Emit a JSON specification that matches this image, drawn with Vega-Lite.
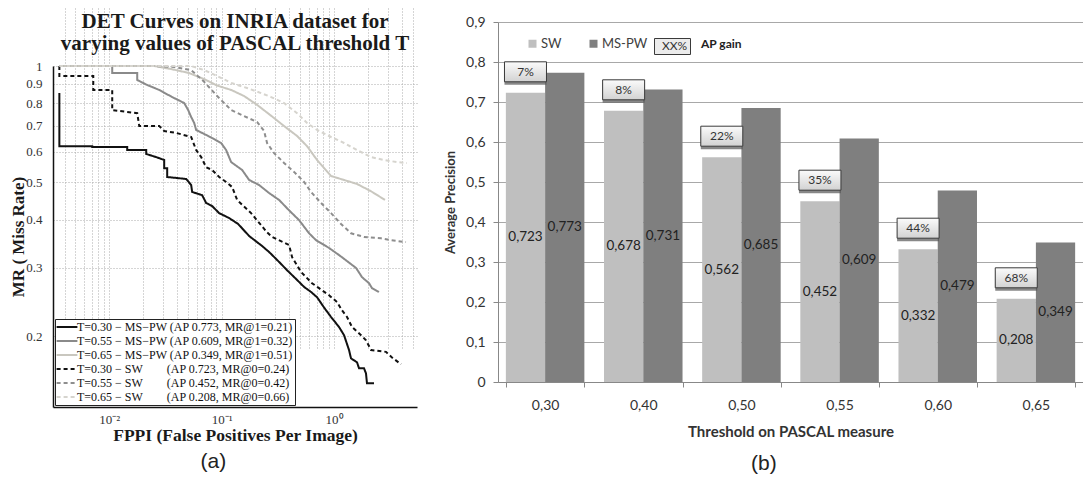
{
  "$schema": "https://vega.github.io/schema/vega-lite/v6.json",
  "background": "white",
  "padding": {"left": 9, "top": 8, "right": 0, "bottom": 0},
  "spacing": 27,
  "config": {
    "locale": {"number": {"decimal": ",", "thousands": ".", "grouping": [3], "currency": ["", " €"]}},
    "view": {"stroke": null}
  },
  "datasets": {
    "det": [
      {"k":"k1","i":0,"f":0.0036,"mr":0.851},{"k":"k1","i":1,"f":0.0036,"mr":0.62},{"k":"k1","i":2,"f":0.00706,"mr":0.62},{"k":"k1","i":3,"f":0.00706,"mr":0.617},{"k":"k1","i":4,"f":0.01445,"mr":0.617},{"k":"k1","i":5,"f":0.01445,"mr":0.606},{"k":"k1","i":6,"f":0.02133,"mr":0.606},{"k":"k1","i":7,"f":0.02133,"mr":0.592},{"k":"k1","i":8,"f":0.02618,"mr":0.581},{"k":"k1","i":9,"f":0.03083,"mr":0.571},{"k":"k1","i":10,"f":0.03083,"mr":0.544},{"k":"k1","i":11,"f":0.03278,"mr":0.544},{"k":"k1","i":12,"f":0.03278,"mr":0.516},{"k":"k1","i":13,"f":0.04833,"mr":0.51},{"k":"k1","i":14,"f":0.05356,"mr":0.492},{"k":"k1","i":15,"f":0.05467,"mr":0.472},{"k":"k1","i":16,"f":0.06711,"mr":0.463},{"k":"k1","i":17,"f":0.07278,"mr":0.442},{"k":"k1","i":18,"f":0.08233,"mr":0.434},{"k":"k1","i":19,"f":0.09506,"mr":0.416},{"k":"k1","i":20,"f":0.1166,"mr":0.404},{"k":"k1","i":21,"f":0.1402,"mr":0.39},{"k":"k1","i":22,"f":0.1756,"mr":0.363},{"k":"k1","i":23,"f":0.2291,"mr":0.342},{"k":"k1","i":24,"f":0.2643,"mr":0.33},{"k":"k1","i":25,"f":0.3245,"mr":0.311},{"k":"k1","i":26,"f":0.3822,"mr":0.296},{"k":"k1","i":27,"f":0.4593,"mr":0.281},{"k":"k1","i":28,"f":0.5412,"mr":0.268},{"k":"k1","i":29,"f":0.6246,"mr":0.26},{"k":"k1","i":30,"f":0.7063,"mr":0.252},{"k":"k1","i":31,"f":0.815,"mr":0.237},{"k":"k1","i":32,"f":0.9406,"mr":0.224},{"k":"k1","i":33,"f":1.108,"mr":0.211},{"k":"k1","i":34,"f":1.227,"mr":0.201},{"k":"k1","i":35,"f":1.359,"mr":0.184},{"k":"k1","i":36,"f":1.416,"mr":0.175},{"k":"k1","i":37,"f":1.601,"mr":0.171},{"k":"k1","i":38,"f":1.668,"mr":0.165},{"k":"k1","i":39,"f":1.848,"mr":0.165},{"k":"k1","i":40,"f":1.924,"mr":0.16},{"k":"k1","i":41,"f":1.963,"mr":0.151},{"k":"k1","i":42,"f":2.268,"mr":0.151},
      {"k":"k2","i":0,"f":0.0036,"mr":1},{"k":"k2","i":1,"f":0.01063,"mr":1},{"k":"k2","i":2,"f":0.01063,"mr":0.959},{"k":"k2","i":3,"f":0.01774,"mr":0.959},{"k":"k2","i":4,"f":0.01774,"mr":0.92},{"k":"k2","i":5,"f":0.02177,"mr":0.893},{"k":"k2","i":6,"f":0.02783,"mr":0.867},{"k":"k2","i":7,"f":0.03631,"mr":0.831},{"k":"k2","i":8,"f":0.04642,"mr":0.802},{"k":"k2","i":9,"f":0.05036,"mr":0.769},{"k":"k2","i":10,"f":0.05356,"mr":0.738},{"k":"k2","i":11,"f":0.05699,"mr":0.712},{"k":"k2","i":12,"f":0.05934,"mr":0.683},{"k":"k2","i":13,"f":0.07278,"mr":0.663},{"k":"k2","i":14,"f":0.08233,"mr":0.651},{"k":"k2","i":15,"f":0.09899,"mr":0.632},{"k":"k2","i":16,"f":0.1096,"mr":0.606},{"k":"k2","i":17,"f":0.1215,"mr":0.564},{"k":"k2","i":18,"f":0.1522,"mr":0.538},{"k":"k2","i":19,"f":0.1756,"mr":0.507},{"k":"k2","i":20,"f":0.2154,"mr":0.492},{"k":"k2","i":21,"f":0.2643,"mr":0.469},{"k":"k2","i":22,"f":0.3245,"mr":0.45},{"k":"k2","i":23,"f":0.3981,"mr":0.423},{"k":"k2","i":24,"f":0.4885,"mr":0.399},{"k":"k2","i":25,"f":0.5995,"mr":0.369},{"k":"k2","i":26,"f":0.6918,"mr":0.354},{"k":"k2","i":27,"f":0.9029,"mr":0.338},{"k":"k2","i":28,"f":1.108,"mr":0.324},{"k":"k2","i":29,"f":1.279,"mr":0.314},{"k":"k2","i":30,"f":1.57,"mr":0.3},{"k":"k2","i":31,"f":1.774,"mr":0.284},{"k":"k2","i":32,"f":2.047,"mr":0.274},{"k":"k2","i":33,"f":2.177,"mr":0.266},{"k":"k2","i":34,"f":2.512,"mr":0.26},
      {"k":"k3","i":0,"f":0.0036,"mr":1},{"k":"k3","i":1,"f":0.02512,"mr":1},{"k":"k3","i":2,"f":0.03559,"mr":0.982},{"k":"k3","i":3,"f":0.05141,"mr":0.959},{"k":"k3","i":4,"f":0.0699,"mr":0.925},{"k":"k3","i":5,"f":0.0912,"mr":0.89},{"k":"k3","i":6,"f":0.1215,"mr":0.867},{"k":"k3","i":7,"f":0.1585,"mr":0.836},{"k":"k3","i":8,"f":0.2069,"mr":0.793},{"k":"k3","i":9,"f":0.2699,"mr":0.747},{"k":"k3","i":10,"f":0.3594,"mr":0.699},{"k":"k3","i":11,"f":0.4688,"mr":0.659},{"k":"k3","i":12,"f":0.5754,"mr":0.62},{"k":"k3","i":13,"f":0.7063,"mr":0.571},{"k":"k3","i":14,"f":0.9406,"mr":0.519},{"k":"k3","i":15,"f":1.227,"mr":0.507},{"k":"k3","i":16,"f":1.601,"mr":0.495},{"k":"k3","i":17,"f":2.133,"mr":0.474},{"k":"k3","i":18,"f":2.84,"mr":0.45},
      {"k":"k4","i":0,"f":0.0036,"mr":1},{"k":"k4","i":1,"f":0.0036,"mr":0.942},{"k":"k4","i":2,"f":0.00721,"mr":0.942},{"k":"k4","i":3,"f":0.00721,"mr":0.867},{"k":"k4","i":4,"f":0.01063,"mr":0.867},{"k":"k4","i":5,"f":0.01063,"mr":0.769},{"k":"k4","i":6,"f":0.01774,"mr":0.755},{"k":"k4","i":7,"f":0.01849,"mr":0.699},{"k":"k4","i":8,"f":0.02783,"mr":0.699},{"k":"k4","i":9,"f":0.03083,"mr":0.679},{"k":"k4","i":10,"f":0.03945,"mr":0.671},{"k":"k4","i":11,"f":0.05356,"mr":0.655},{"k":"k4","i":12,"f":0.05934,"mr":0.606},{"k":"k4","i":13,"f":0.06577,"mr":0.581},{"k":"k4","i":14,"f":0.07278,"mr":0.547},{"k":"k4","i":15,"f":0.08233,"mr":0.538},{"k":"k4","i":16,"f":0.09506,"mr":0.516},{"k":"k4","i":17,"f":0.1096,"mr":0.501},{"k":"k4","i":18,"f":0.124,"mr":0.486},{"k":"k4","i":19,"f":0.1374,"mr":0.45},{"k":"k4","i":20,"f":0.1828,"mr":0.416},{"k":"k4","i":21,"f":0.2536,"mr":0.371},{"k":"k4","i":22,"f":0.281,"mr":0.361},{"k":"k4","i":23,"f":0.3981,"mr":0.344},{"k":"k4","i":24,"f":0.4236,"mr":0.32},{"k":"k4","i":25,"f":0.509,"mr":0.293},{"k":"k4","i":26,"f":0.6371,"mr":0.274},{"k":"k4","i":27,"f":0.7356,"mr":0.266},{"k":"k4","i":28,"f":0.9029,"mr":0.255},{"k":"k4","i":29,"f":1.063,"mr":0.245},{"k":"k4","i":30,"f":1.178,"mr":0.233},{"k":"k4","i":31,"f":1.305,"mr":0.224},{"k":"k4","i":32,"f":1.445,"mr":0.211},{"k":"k4","i":33,"f":1.738,"mr":0.201},{"k":"k4","i":34,"f":1.924,"mr":0.195},{"k":"k4","i":35,"f":2.133,"mr":0.184},{"k":"k4","i":36,"f":2.899,"mr":0.182},{"k":"k4","i":37,"f":3.278,"mr":0.176},{"k":"k4","i":38,"f":3.942,"mr":0.169},
      {"k":"k5","i":0,"f":0.0036,"mr":1},{"k":"k5","i":1,"f":0.02512,"mr":1},{"k":"k5","i":2,"f":0.03785,"mr":0.994},{"k":"k5","i":3,"f":0.05356,"mr":0.976},{"k":"k5","i":4,"f":0.0699,"mr":0.91},{"k":"k5","i":5,"f":0.0912,"mr":0.836},{"k":"k5","i":6,"f":0.1215,"mr":0.769},{"k":"k5","i":7,"f":0.1585,"mr":0.742},{"k":"k5","i":8,"f":0.2069,"mr":0.716},{"k":"k5","i":9,"f":0.2385,"mr":0.679},{"k":"k5","i":10,"f":0.2536,"mr":0.632},{"k":"k5","i":11,"f":0.2929,"mr":0.595},{"k":"k5","i":12,"f":0.3594,"mr":0.561},{"k":"k5","i":13,"f":0.4408,"mr":0.532},{"k":"k5","i":14,"f":0.5412,"mr":0.501},{"k":"k5","i":15,"f":0.6246,"mr":0.472},{"k":"k5","i":16,"f":0.7663,"mr":0.442},{"k":"k5","i":17,"f":0.9406,"mr":0.416},{"k":"k5","i":18,"f":1.154,"mr":0.39},{"k":"k5","i":19,"f":1.416,"mr":0.369},{"k":"k5","i":20,"f":1.848,"mr":0.361},{"k":"k5","i":21,"f":2.618,"mr":0.358},{"k":"k5","i":22,"f":3.211,"mr":0.354},{"k":"k5","i":23,"f":4.365,"mr":0.35},
      {"k":"k6","i":0,"f":0.0036,"mr":1},{"k":"k6","i":1,"f":0.05356,"mr":1},{"k":"k6","i":2,"f":0.0699,"mr":0.976},{"k":"k6","i":3,"f":0.0912,"mr":0.942},{"k":"k6","i":4,"f":0.1215,"mr":0.904},{"k":"k6","i":5,"f":0.1685,"mr":0.877},{"k":"k6","i":6,"f":0.2244,"mr":0.851},{"k":"k6","i":7,"f":0.2754,"mr":0.831},{"k":"k6","i":8,"f":0.3594,"mr":0.802},{"k":"k6","i":9,"f":0.4688,"mr":0.755},{"k":"k6","i":10,"f":0.5754,"mr":0.712},{"k":"k6","i":11,"f":0.7063,"mr":0.683},{"k":"k6","i":12,"f":0.9406,"mr":0.655},{"k":"k6","i":13,"f":1.227,"mr":0.632},{"k":"k6","i":14,"f":1.601,"mr":0.606},{"k":"k6","i":15,"f":2.133,"mr":0.581},{"k":"k6","i":16,"f":2.783,"mr":0.571},{"k":"k6","i":17,"f":3.631,"mr":0.564},{"k":"k6","i":18,"f":4.456,"mr":0.561}
    ],
    "ap": [
      {"t":"0,30","m":"SW","ap":0.723,"g":"7%"},{"t":"0,30","m":"MS-PW","ap":0.773},
      {"t":"0,40","m":"SW","ap":0.678,"g":"8%"},{"t":"0,40","m":"MS-PW","ap":0.731},
      {"t":"0,50","m":"SW","ap":0.562,"g":"22%"},{"t":"0,50","m":"MS-PW","ap":0.685},
      {"t":"0,55","m":"SW","ap":0.452,"g":"35%"},{"t":"0,55","m":"MS-PW","ap":0.609},
      {"t":"0,60","m":"SW","ap":0.332,"g":"44%"},{"t":"0,60","m":"MS-PW","ap":0.479},
      {"t":"0,65","m":"SW","ap":0.208,"g":"68%"},{"t":"0,65","m":"MS-PW","ap":0.349}
    ]
  },
  "resolve": {
    "scale": {"x": "independent", "y": "independent", "color": "independent", "strokeDash": "independent", "stroke": "independent"},
    "legend": {"color": "independent", "strokeDash": "independent", "stroke": "independent"}
  },
  "hconcat": [
    {
      "title": {"text": "(a)", "orient": "bottom", "anchor": "middle", "frame": "bounds", "font": "Liberation Sans", "fontSize": 21, "fontWeight": "normal", "color": "#222222", "offset": 7},
      "vconcat": [
        {
          "width": 364,
          "height": 399,
          "title": {"text": ["DET Curves on INRIA dataset for", "varying values of PASCAL threshold T"], "font": "Liberation Serif", "fontSize": 21, "fontWeight": "bold", "color": "#1a1a1a", "lineHeight": 22, "anchor": "middle", "frame": "group", "baseline": "top", "offset": -46},
          "data": {"name": "det"},
          "mark": {"type": "line", "strokeWidth": 2, "clip": true},
          "encoding": {
            "x": {
              "field": "f", "type": "quantitative",
              "scale": {"type": "log", "domain": [0.00316, 5.47], "nice": false},
              "axis": {
                "values": [0.004,0.005,0.006,0.007,0.008,0.009,0.01,0.02,0.03,0.04,0.05,0.06,0.07,0.08,0.09,0.1,0.2,0.3,0.4,0.5,0.6,0.7,0.8,0.9,1,2,3,4,5],
                "labelExpr": "datum.value == 0.01 ? '10⁻²' : datum.value == 0.1 ? '10⁻¹' : datum.value == 1 ? '10⁰' : ''",
                "grid": true, "gridDash": [1, 2], "gridColor": "#aaaaaa", "gridWidth": 1,
                "ticks": false, "tickSize": 0, "domainColor": "#111111", "domainWidth": 1.5,
                "labelFont": "Liberation Serif", "labelFontSize": 13, "labelColor": "#333333", "labelPadding": 6, "labelFlush": false,
                "title": "FPPI (False Positives Per Image)", "titleFont": "Liberation Serif", "titleFontSize": 17.5, "titleFontWeight": "bold", "titleColor": "#1a1a1a", "titlePadding": 0
              }
            },
            "y": {
              "field": "mr", "type": "quantitative",
              "scale": {"type": "log", "domain": [0.131, 1], "range": [399, 58], "nice": false},
              "axis": {
                "values": [0.2,0.3,0.4,0.5,0.6,0.7,0.8,0.9,1],
                "labelExpr": "datum.value >= 0.99 ? '1' : replace(format(datum.value, '.1f'), ',', '.')",
                "grid": true, "gridDash": [1, 2], "gridColor": "#aaaaaa", "gridWidth": 1,
                "ticks": false, "tickSize": 0, "domainColor": "#111111", "domainWidth": 1.5,
                "labelFont": "Liberation Serif", "labelFontSize": 13, "labelColor": "#333333", "labelPadding": 11,
                "title": "MR ( Miss Rate)", "titleFont": "Liberation Serif", "titleFontSize": 17, "titleFontWeight": "bold", "titleColor": "#1a1a1a", "titlePadding": -2
              }
            },
            "color": {
              "field": "k", "type": "nominal",
              "scale": {"domain": ["k1","k2","k3","k4","k5","k6"], "range": ["#111111","#8a8a8a","#c9c7bf","#111111","#8e8e8e","#d6d4ce"]},
              "legend": {
                "title": null, "orient": "none", "legendX": 2, "legendY": 311,
                "labelExpr": "datum.label == 'k1' ? 'T=0.30 − MS−PW (AP 0.773, MR@1=0.21)' : datum.label == 'k2' ? 'T=0.55 − MS−PW (AP 0.609, MR@1=0.32)' : datum.label == 'k3' ? 'T=0.65 − MS−PW (AP 0.349, MR@1=0.51)' : datum.label == 'k4' ? 'T=0.30 − SW\u00a0\u00a0\u00a0\u00a0\u00a0\u00a0\u00a0 (AP 0.723, MR@0=0.24)' : datum.label == 'k5' ? 'T=0.55 − SW\u00a0\u00a0\u00a0\u00a0\u00a0\u00a0\u00a0 (AP 0.452, MR@0=0.42)' : 'T=0.65 − SW\u00a0\u00a0\u00a0\u00a0\u00a0\u00a0\u00a0 (AP 0.208, MR@0=0.66)'",
                "labelFont": "Liberation Serif", "labelFontSize": 12, "labelColor": "#111111", "labelLimit": 400, "labelOffset": 4,
                "symbolType": "M-2.6,0H2.6", "symbolSize": 64, "symbolStrokeWidth": 2, "symbolOffset": 4,
                "rowPadding": 2, "padding": 2, "fillColor": "white", "strokeColor": "#222222"
              }
            },
            "strokeDash": {
              "field": "k", "type": "nominal",
              "scale": {"domain": ["k1","k2","k3","k4","k5","k6"], "range": [[1,0],[1,0],[1,0],[4,3],[4,3],[4,3]]},
              "legend": {
                "title": null, "orient": "none", "legendX": 2, "legendY": 311,
                "labelExpr": "datum.label == 'k1' ? 'T=0.30 − MS−PW (AP 0.773, MR@1=0.21)' : datum.label == 'k2' ? 'T=0.55 − MS−PW (AP 0.609, MR@1=0.32)' : datum.label == 'k3' ? 'T=0.65 − MS−PW (AP 0.349, MR@1=0.51)' : datum.label == 'k4' ? 'T=0.30 − SW\u00a0\u00a0\u00a0\u00a0\u00a0\u00a0\u00a0 (AP 0.723, MR@0=0.24)' : datum.label == 'k5' ? 'T=0.55 − SW\u00a0\u00a0\u00a0\u00a0\u00a0\u00a0\u00a0 (AP 0.452, MR@0=0.42)' : 'T=0.65 − SW\u00a0\u00a0\u00a0\u00a0\u00a0\u00a0\u00a0 (AP 0.208, MR@0=0.66)'",
                "labelFont": "Liberation Serif", "labelFontSize": 12, "labelColor": "#111111", "labelLimit": 400, "labelOffset": 4,
                "symbolType": "M-2.6,0H2.6", "symbolSize": 64, "symbolStrokeWidth": 2, "symbolOffset": 4,
                "rowPadding": 2, "padding": 2, "fillColor": "white", "strokeColor": "#222222"
              }
            },
            "order": {"field": "i", "type": "quantitative"}
          }
        }
      ]
    },
    {
      "width": 585,
      "height": 374,
      "title": {"text": "(b)", "orient": "bottom", "anchor": "middle", "frame": "bounds", "font": "Liberation Sans", "fontSize": 21, "fontWeight": "normal", "color": "#222222", "offset": 14},
      "data": {"name": "ap"},
      "resolve": {"scale": {"y": "independent"}},
      "encoding": {
        "x": {
          "field": "t", "type": "nominal", "sort": null,
          "scale": {"paddingInner": 0.2, "paddingOuter": 0.08},
          "axis": {
            "title": "Threshold on PASCAL measure", "labelAngle": 0, "tickBand": "extent", "tickSize": 5,
            "domainColor": "#888888", "tickColor": "#888888", "grid": false,
            "labelFont": "Lato", "labelFontSize": 14, "labelColor": "#333333", "labelPadding": 11,
            "titleFont": "Lato", "titleFontSize": 15, "titleFontWeight": "bold", "titleColor": "#333333", "titlePadding": 12
          }
        },
        "xOffset": {"field": "m", "type": "nominal", "scale": {"domain": ["SW", "MS-PW"], "paddingInner": 0, "paddingOuter": 0}}
      },
      "layer": [
        {
          "mark": {"type": "bar"},
          "encoding": {
            "y": {
              "field": "ap", "type": "quantitative",
              "scale": {"domain": [0, 0.9], "range": [374, 14], "nice": false, "zero": true},
              "axis": {
                "values": [0,0.1,0.2,0.3,0.4,0.5,0.6,0.7,0.8,0.9], "format": ".1~f",
                "grid": true, "gridColor": "#a8a8a8", "domainColor": "#888888", "tickColor": "#888888", "tickSize": 5,
                "labelFont": "Lato", "labelFontSize": 14, "labelColor": "#333333", "labelPadding": 8,
                "title": "Average Precision", "titleFont": "Lato", "titleFontSize": 13, "titleFontWeight": "bold", "titleColor": "#333333", "titlePadding": 8
              }
            },
            "color": {
              "field": "m", "type": "nominal",
              "scale": {"domain": ["SW", "MS-PW"], "range": ["#bfbfbf", "#7f7f7f"]},
              "legend": {
                "orient": "none", "legendX": 28, "legendY": 29, "direction": "horizontal",
                "title": "AP gain", "titleOrient": "right", "titleFont": "Lato", "titleFontWeight": "bold", "titleFontSize": 12, "titleColor": "#222222", "titlePadding": 54,
                "symbolType": "square", "symbolSize": 64, "symbolStrokeWidth": 0,
                "labelFont": "Lato", "labelFontSize": 13, "labelColor": "#404040", "labelOffset": 2, "columnPadding": 25
              }
            }
          }
        },
        {
          "transform": [{"filter": "datum.g != null"}],
          "mark": {"type": "point", "shape": "M-2.1,-1H2.1V1H-2.1Z", "size": 400, "filled": true, "fill": "#555555", "opacity": 0.7, "strokeWidth": 0, "yOffset": -18},
          "encoding": {
            "y": {"field": "ap", "type": "quantitative", "scale": {"domain": [0, 0.9], "range": [374, 14], "nice": false}, "axis": null}
          }
        },
        {
          "transform": [{"filter": "datum.g != null"}],
          "mark": {"type": "point", "shape": "M-2.1,-1H2.1V1H-2.1Z", "size": 400, "filled": true, "opacity": 1, "fill": {"gradient": "linear", "x1": 0, "y1": 0, "x2": 0, "y2": 1, "stops": [{"offset": 0, "color": "#fbfbfb"}, {"offset": 1, "color": "#d2d2d2"}]}, "strokeWidth": 1, "yOffset": -21},
          "encoding": {
            "y": {"field": "ap", "type": "quantitative", "scale": {"domain": [0, 0.9], "range": [374, 14], "nice": false}, "axis": null},
            "stroke": {
              "datum": "XX%",
              "scale": {"range": ["#3a3a3a"]},
              "legend": {
                "orient": "none", "legendX": 156, "legendY": 30, "title": null,
                "fillColor": "#ececec", "strokeColor": "#3a3a3a", "padding": 2,
                "symbolSize": 1, "symbolStrokeWidth": 0, "symbolOpacity": 0, "labelOffset": -6,
                "labelFont": "Lato", "labelFontSize": 12, "labelColor": "#333333"
              }
            }
          }
        },
        {
          "transform": [{"filter": "datum.g != null"}],
          "mark": {"type": "text", "font": "Lato", "fontSize": 12, "color": "#333333", "align": "center", "baseline": "middle", "yOffset": -21},
          "encoding": {
            "y": {"field": "ap", "type": "quantitative", "scale": {"domain": [0, 0.9], "range": [374, 14], "nice": false}, "axis": null},
            "text": {"field": "g"}
          }
        },
        {
          "mark": {"type": "text", "font": "Lato", "fontSize": 13.5, "color": "#222222", "align": "center", "baseline": "middle"},
          "encoding": {
            "y": {"field": "ap", "type": "quantitative", "scale": {"domain": [0, 1.8], "range": [374, 14], "nice": false}, "axis": null},
            "text": {"field": "ap", "type": "quantitative", "format": ".3f"}
          }
        }
      ]
    }
  ]
}
